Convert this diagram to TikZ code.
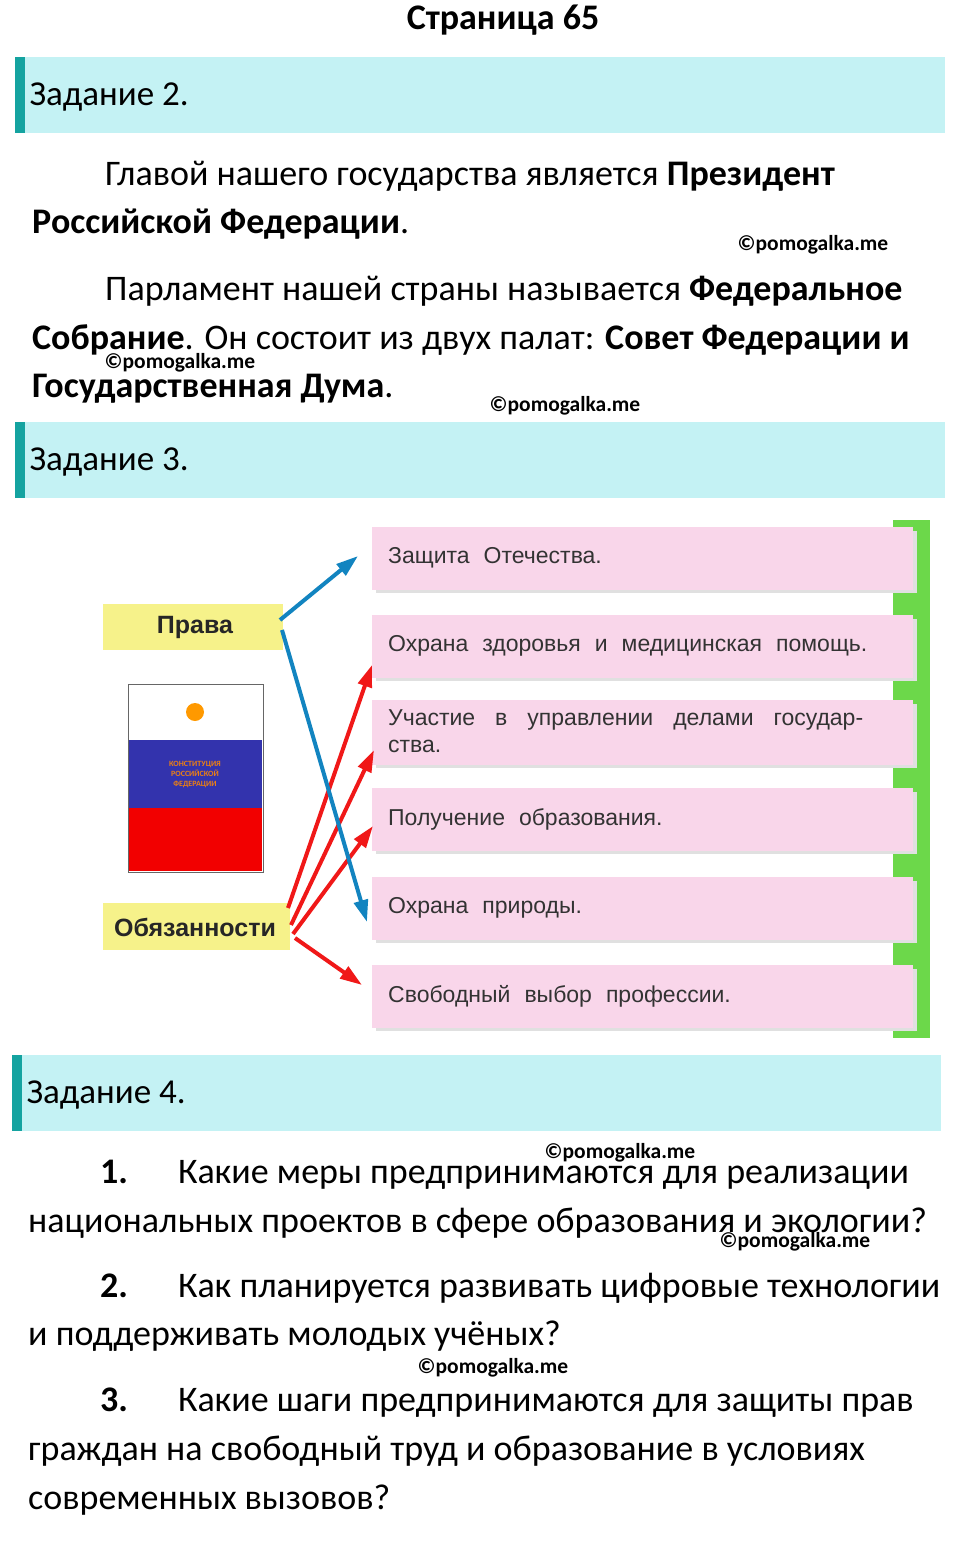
\documentclass[tikz,border=0pt]{standalone}
\usepackage{fontspec}
\setmainfont{Carlito}
\newfontfamily\arialf{Liberation Sans}
\usetikzlibrary{arrows.meta}
\definecolor{banner}{HTML}{C4F2F4}
\definecolor{bar}{HTML}{14A3A0}
\definecolor{pinkb}{HTML}{F9D6EA}
\definecolor{yel}{HTML}{F6F28A}
\definecolor{bluea}{HTML}{1284C0}
\definecolor{reda}{HTML}{F01818}
\definecolor{greenb}{HTML}{6CD84A}
\tikzset{
 btitle/.style={anchor=west,font=\fontsize{35}{40}\selectfont},
 body/.style={anchor=base west,font=\fontsize{36}{40}\selectfont,inner sep=0},
 wm/.style={font=\bfseries\fontsize{21.5}{24}\selectfont,inner sep=0},
 ptext/.style={anchor=west,font=\arialf\fontsize{23}{27}\selectfont,text=black!80,align=left,inner sep=0},
 ltext/.style={font=\arialf\bfseries\fontsize{25}{28}\selectfont,text=black!85},
 barr/.style={draw=bluea,line width=4pt,-{Triangle[length=22pt,width=14pt]}},
 rarr/.style={draw=reda,line width=4pt,-{Triangle[length=22pt,width=14pt]}},
}
\newcommand{\wsp}{\hspace{14pt}}
\begin{document}
\begin{tikzpicture}[x=1pt,y=-1pt]
\useasboundingbox (0,0) rectangle (960,1546);
\fill[white] (0,0) rectangle (960,1546);
\node[font=\bfseries\fontsize{36}{40}\selectfont] (title) at (503,20) {Страница 65};
% Zadanie 2
\fill[banner] (15,57) rectangle (945,133);
\fill[bar] (15,57) rectangle (25,133);
\node[btitle] (z2) at (26,97) {Задание 2.};
\node[body] (l1) at (105,186) {Главой нашего государства является \textbf{Президент}};
\node[body] (l2) at (32,234) {\textbf{Российской Федерации}.};
\node[body] (l3) at (105,300) {Парламент нашей страны называется \textbf{Федеральное}};
\node[body] (l4) at (32,349) {\textbf{Собрание}. Он состоит из двух палат: \textbf{Совет Федерации и}};
\node[body] (l5) at (32,397) {\textbf{Государственная Дума}.};
\node[wm] (w1) at (813,245) {©pomogalka.me};
\node[wm] (w2) at (180,363) {©pomogalka.me};
\node[wm] (w3) at (565,406) {©pomogalka.me};
% Zadanie 3
\fill[banner] (15,422) rectangle (945,498);
\fill[bar] (15,422) rectangle (25,498);
\node[btitle] (z3) at (26,462) {Задание 3.};
% picture
\fill[greenb] (893,520) rectangle (930,1038);
\foreach \y/\t [count=\i] in {527/{Защита\wsp Отечества.},615/{Охрана\wsp здоровья\wsp и\wsp медицинская\wsp помощь.},788/{Получение\wsp образования.},877/{Охрана\wsp природы.},965/{Свободный\wsp выбор\wsp профессии.}}{
 \fill[black!12] (376,\y+4) rectangle (917,\y+66);
 \fill[pinkb] (372,\y) rectangle (913,\y+63);
 \node[ptext] (p\i) at (388,\y+31) {\t};
}
\fill[black!12] (376,704) rectangle (917,768);
\fill[pinkb] (372,700) rectangle (913,765);
\node[ptext] (pu) at (388,731) {Участие\hspace{20pt}в\hspace{20pt}управлении\hspace{20pt}делами\hspace{20pt}государ-\\ства.};
\fill[yel] (103,604) rectangle (283,650);
\node[ltext] (prava) at (195,627) {Права};
\fill[yel] (103,903) rectangle (290,950);
\node[ltext] (obyaz) at (195,927) {Обязанности};
% book
\draw[black!60,fill=white] (128,684) rectangle (263,872);
\fill[blue!60!black!80] (129,740) rectangle (262,808);
\fill[red!95!black] (129,808) rectangle (262,871);
\fill[orange!80!yellow] (195,712) circle (9);
\node[font=\bfseries\fontsize{8}{10}\selectfont,text=orange!70!brown,align=center,inner sep=0] (bt) at (195,774) {КОНСТИТУЦИЯ\\РОССИЙСКОЙ\\ФЕДЕРАЦИИ};
% arrows
\coordinate (pa) at (280,620);
\coordinate (pb) at (282,630);
\coordinate (oa) at (288,908);
\coordinate (ob) at (291,925);
\coordinate (oc) at (293,934);
\coordinate (od) at (295,938);
\coordinate (t1) at (358,556);
\coordinate (t5) at (367,922);
\coordinate (t2) at (372,665);
\coordinate (t3) at (374,750);
\coordinate (t4) at (373,826);
\coordinate (t6) at (362,985);
\draw[rarr] (oa) -- (t2);
\draw[rarr] (ob) -- (t3);
\draw[rarr] (oc) -- (t4);
\draw[rarr] (od) -- (t6);
\draw[barr] (pa) -- (t1);
\draw[barr] (pb) -- (t5);
% Zadanie 4
\fill[banner] (12,1055) rectangle (941,1131);
\fill[bar] (12,1055) rectangle (22,1131);
\node[btitle] (z4) at (23,1095) {Задание 4.};
\node[body] (q1) at (100,1183) {\textbf{1.}\hspace{50pt}Какие меры предпринимаются для реализации};
\node[body] (q1b) at (28,1232) {национальных проектов в сфере образования и экологии?};
\node[body] (q2) at (100,1297) {\textbf{2.}\hspace{50pt}Как планируется развивать цифровые технологии};
\node[body] (q2b) at (28,1345) {и поддерживать молодых учёных?};
\node[body] (q3) at (100,1411) {\textbf{3.}\hspace{50pt}Какие шаги предпринимаются для защиты прав};
\node[body] (q3b) at (28,1460) {граждан на свободный труд и образование в условиях};
\node[body] (q3c) at (28,1509) {современных вызовов?};
\node[wm] (w4) at (620,1153) {©pomogalka.me};
\node[wm] (w5) at (795,1242) {©pomogalka.me};
\node[wm] (w6) at (493,1368) {©pomogalka.me};
\end{tikzpicture}
\end{document}
